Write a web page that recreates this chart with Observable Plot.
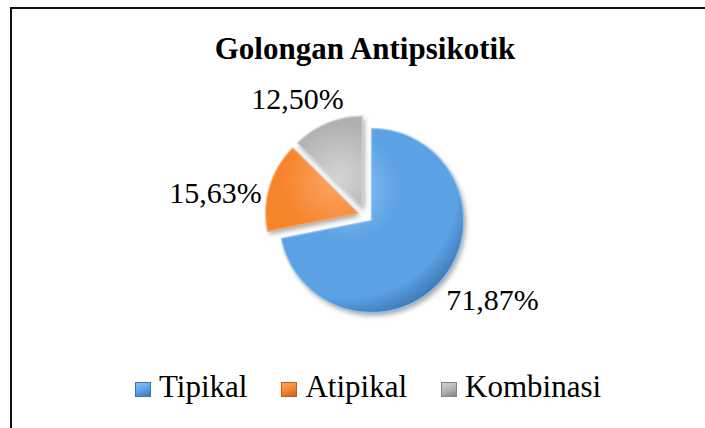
<!DOCTYPE html>
<html><head><meta charset="utf-8">
<script src="https://cdn.jsdelivr.net/npm/d3@7"></script>
<script src="https://cdn.jsdelivr.net/npm/@observablehq/plot@0.6"></script>
<style>
body{margin:0;background:#fff;}
#chart{position:relative;width:705px;height:428px;overflow:hidden;background:#fff;font-family:'Liberation Serif';color:#000;}
#frame{position:absolute;left:10px;top:7px;width:800px;height:600px;border-left:2px solid #111;border-top:2px solid #111;}
#title{position:absolute;left:0;top:33px;width:730px;text-align:center;font-family:'Liberation Serif';font-weight:bold;font-size:31px;line-height:31px;}
#plot{position:absolute;left:0;top:70px;}
#legend{position:absolute;left:135px;top:371px;font-family:'Liberation Serif';font-size:31px;line-height:31px;white-space:nowrap;}
.item{display:inline-block;margin-right:34px;}
.item:last-child{margin-right:0;}
.sw{display:inline-block;width:16px;height:15px;margin-right:8px;vertical-align:0px;box-sizing:border-box;}
</style></head>
<body><div id="chart"><div id="frame"></div><div id="title"></div><div id="plot"></div><div id="legend"></div></div>
<script>
const title = "Golongan Antipsikotik";
const categories = ["Tipikal", "Atipikal", "Kombinasi"];
const values = [71.87, 15.63, 12.50];
const labels = ["71,87%", "15,63%", "12,50%"];
const baseColors = ["#5BA1E3", "#F5842C", "#B0B0B0"];
const lightColors = ["#8CC2F0", "#FBA565", "#D4D4D4"];
const darkColors = ["#3C76B2", "#C4601A", "#838383"];

// layout
const W = 705, H = 280, PX = 92;           // px per radius unit
const CX = 365, CY = 145;                  // pie centre in svg px
const explode = 8 / PX;

document.getElementById("title").textContent = title;

// slices from values
const total = d3.sum(values);
let acc = 0;
const slices = values.map((v, i) => {
  const a0 = acc / total * 2 * Math.PI;
  acc += v;
  const a1 = acc / total * 2 * Math.PI;
  const m = (a0 + a1) / 2;
  return {cat: categories[i], i, a0, a1, m, cx: explode * Math.sin(m), cy: explode * Math.cos(m)};
});

const pts = [];
for (const s of slices) {
  const n = Math.ceil((s.a1 - s.a0) * 180 / Math.PI);
  pts.push({cat: s.cat, x: s.cx, y: s.cy});
  for (let k = 0; k <= n; k++) {
    const a = s.a0 + (s.a1 - s.a0) * k / n;
    pts.push({cat: s.cat, x: s.cx + Math.sin(a), y: s.cy + Math.cos(a)});
  }
  pts.push({cat: s.cat, x: s.cx, y: s.cy});
}

// label positions (outside, best-fit like)
const lw = 92, lh = 24, R = 105, rot = 7 * Math.PI / 180;
const labelData = slices.map(s => {
  const t = s.m - rot;
  const dx = Math.sin(t), dy = Math.cos(t);
  const L = R + Math.abs(dx) * lw / 2 + Math.abs(dy) * lh / 2;
  return {text: labels[s.i], x: dx * L / PX, y: dy * L / PX};
});

const gradUrls = categories.map((c, i) => `url(#g${i})`);

const plot = Plot.plot({
  width: W, height: H,
  margin: 0,
  x: {domain: [-CX / PX, (W - CX) / PX], axis: null},
  y: {domain: [-(H - CY) / PX, CY / PX], axis: null},
  color: {domain: categories, range: gradUrls},
  style: {fontFamily: "'Liberation Serif'", background: "transparent", overflow: "visible"},
  marks: [
    Plot.line(pts, {x: "x", y: "y", z: "cat", fill: "cat", stroke: "none"}),
    Plot.line(pts, {x: "x", y: "y", z: "cat", stroke: "cat", strokeWidth: 0}),
    Plot.text(labelData, {x: "x", y: "y", text: "text", fontSize: 30, fontFamily: "'Liberation Serif'", fill: "#000", textAnchor: "middle", lineAnchor: "middle", dy: 4})
  ]
});

// gradients & shadow
const svg = d3.select(plot);
const defs = svg.insert("defs", ":first-child");
const xs = plot.scale("x"), ys = plot.scale("y");
slices.forEach((s, i) => {
  const g = defs.append("radialGradient").attr("id", `g${i}`)
    .attr("gradientUnits", "userSpaceOnUse")
    .attr("cx", xs.apply(s.cx - 0.25)).attr("cy", ys.apply(s.cy + 0.35))
    .attr("r", PX * 1.45);
  g.append("stop").attr("offset", "0%").attr("stop-color", lightColors[i]);
  g.append("stop").attr("offset", "40%").attr("stop-color", baseColors[i]);
  g.append("stop").attr("offset", "82%").attr("stop-color", baseColors[i]);
  g.append("stop").attr("offset", "100%").attr("stop-color", darkColors[i]);
});
const f = defs.append("filter").attr("id", "shadow").attr("x", "-20%").attr("y", "-20%").attr("width", "140%").attr("height", "140%");
f.append("feDropShadow").attr("dx", 2).attr("dy", 3).attr("stdDeviation", 2.5)
  .attr("flood-color", "#000").attr("flood-opacity", 0.35);
const lineGroups = svg.selectAll("g[aria-label='line']");
lineGroups.filter((d, k) => k === 0).attr("filter", "url(#shadow)");
// bevel highlight on edges
lineGroups.filter((d, k) => k === 1).selectAll("path")
  .attr("stroke", (d, k) => lightColors[k]).attr("stroke-width", 1.5)
  .attr("stroke-opacity", 0.8).attr("fill", "none").attr("stroke-linejoin", "round");
document.getElementById("plot").append(plot);

// legend
const legend = d3.select("#legend");
categories.forEach((c, i) => {
  const it = legend.append("span").attr("class", "item");
  it.append("span").attr("class", "sw")
    .style("background", `linear-gradient(160deg, ${lightColors[i]} 0%, ${baseColors[i]} 55%, ${darkColors[i]} 100%)`)
    .style("border", `1px solid ${darkColors[i]}`);
  it.append("span").text(c);
});
</script>
</body></html>
